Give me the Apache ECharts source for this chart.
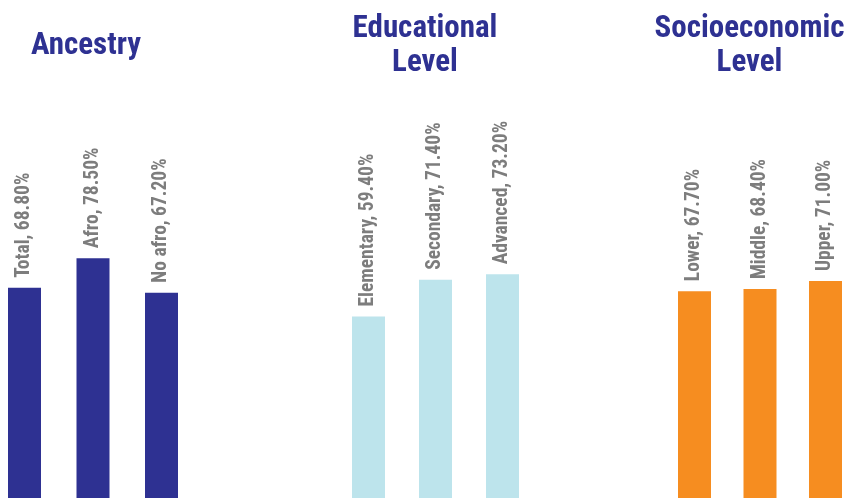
<!DOCTYPE html>
<html>
<head>
<meta charset="utf-8">
<script src="https://cdn.jsdelivr.net/npm/echarts@6/dist/echarts.min.js"></script>
<style>
  html, body { margin: 0; padding: 0; background: #ffffff; }
  #chart { width: 845px; height: 498px; }
</style>
</head>
<body>
<div id="chart"></div>
<script>
// Group headings
const groupTitles = ['Ancestry', 'Educational\nLevel', 'Socioeconomic\nLevel'];

// Ancestry
const ancestryCats = ['Total', 'Afro', 'No afro'];
const ancestryVals = [68.8, 78.5, 67.2];

// Educational level
const educationCats = ['Elementary', 'Secondary', 'Advanced'];
const educationVals = [59.4, 71.4, 73.2];

// Socioeconomic level
const socioCats = ['Lower', 'Middle', 'Upper'];
const socioVals = [67.7, 68.4, 71.0];

const groups = [
  { cats: ancestryCats, vals: ancestryVals, color: '#2e3192' },
  { cats: educationCats, vals: educationVals, color: '#bde4ec' },
  { cats: socioCats, vals: socioVals, color: '#f68d20' }
];

// Panel layout: one grid per group, first and last category sit on the grid edges
const panels = [
  { left: 24.5, width: 137, titleX: 86, titleY: 46 },
  { left: 368.5, width: 134, titleX: 425, titleY: 46 },
  { left: 694.5, width: 131, titleX: 749.5, titleY: 46 }
];

const FONT = '"Roboto Condensed", "Open Sans Condensed", sans-serif';

const chart = echarts.init(document.getElementById('chart'), null, { renderer: 'canvas' });

const option = {
  backgroundColor: '#ffffff',
  animation: false,
  grid: panels.map(p => ({ left: p.left, width: p.width, top: 0, bottom: 0, containLabel: false })),
  xAxis: groups.map((g, i) => ({
    type: 'category',
    gridIndex: i,
    data: g.cats,
    boundaryGap: false,
    show: false
  })),
  yAxis: groups.map((g, i) => ({
    type: 'value',
    gridIndex: i,
    min: 0,
    max: 163,
    show: false
  })),
  series: groups.map((g, i) => ({
    type: 'bar',
    xAxisIndex: i,
    yAxisIndex: i,
    data: g.vals,
    barWidth: 33,
    clip: false,
    itemStyle: { color: g.color },
    label: {
      show: true,
      position: 'top',
      distance: 10,
      rotate: 90,
      align: 'left',
      verticalAlign: 'middle',
      color: '#7d7d7d',
      fontFamily: FONT,
      fontWeight: 'bold',
      fontSize: 19.5,
      formatter: p => p.name + ', ' + p.value.toFixed(2) + '%'
    }
  })),
  graphic: panels.map((p, i) => ({
    type: 'text',
    x: p.titleX,
    y: p.titleY,
    style: {
      text: groupTitles[i],
      align: 'center',
      verticalAlign: 'middle',
      fill: '#2e3192',
      font: 'bold 31px ' + FONT,
      lineHeight: 34
    }
  }))
};

chart.setOption(option);
</script>
</body>
</html>
